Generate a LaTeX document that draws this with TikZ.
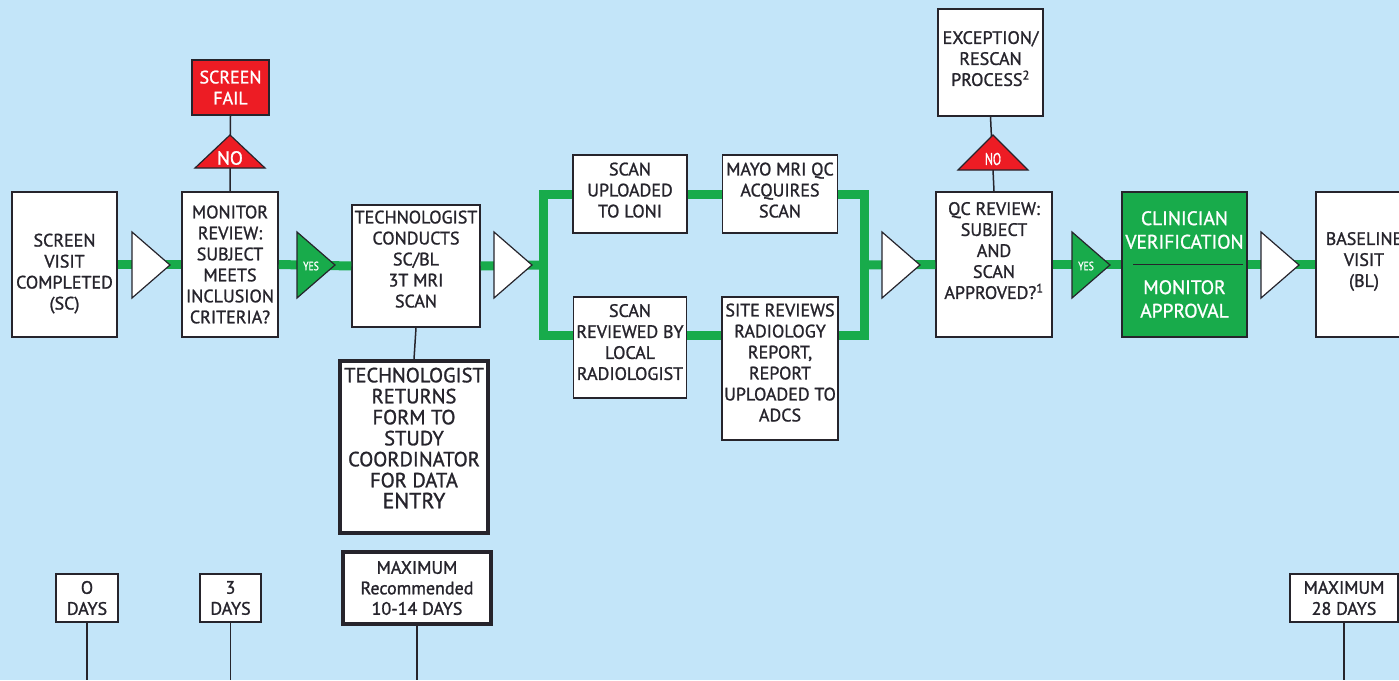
\documentclass[tikz,border=0pt]{standalone}
\usepackage{fontspec}
\setmainfont{PT Sans}[UprightFeatures={FakeBold=1.2}]
\usepackage{graphicx}

\definecolor{skyblue}{RGB}{195,229,249}
\definecolor{flowgreen}{RGB}{24,171,75}
\definecolor{failred}{RGB}{237,28,36}
\definecolor{ink}{RGB}{38,36,44}

\tikzset{
    box/.style={draw=ink, fill=white, line width=1.5pt, text=ink, align=center,
        inner sep=0pt, font=\fontsize{18}{21}\selectfont},
    heavybox/.style={box, line width=3.5pt},
    flow/.style={flowgreen, line width=9pt},
    link/.style={draw=ink, line width=1.5pt},
    tri/.style={draw=ink, line width=1.2pt},
}

\begin{document}
\begin{tikzpicture}[x=1pt, y=-1pt]
    \fill[skyblue] (0,0) rectangle (1399,680);
    \useasboundingbox (0,0) rectangle (1399,680);
    \clip (0,0) rectangle (1399,680);
    \coordinate (bottom) at (0,680);

    % main row
    \node[box, minimum width=105pt, minimum height=145pt, text height=94pt] (sc) at (64.5,264.5) {SCREEN\\VISIT\\COMPLETED\\(SC)};
    \node[box, minimum width=96pt, minimum height=145pt] (review) at (230,264.5) {MONITOR\\REVIEW:\\SUBJECT\\MEETS\\INCLUSION\\CRITERIA?};
    \node[box, fill=failred, text=white, minimum width=77pt, minimum height=55pt] (fail) at (230.5,87.5) {SCREEN\\FAIL};
    \node[box, minimum width=128pt, minimum height=122pt, text depth=14pt] (tech) at (416,266) {TECHNOLOGIST\\CONDUCTS\\SC/BL\\3T MRI\\SCAN};
    \node[heavybox, minimum width=148pt, minimum height=172pt, text depth=18pt,
        font=\fontsize{20.5}{21}\selectfont] (returns) at (414,447)
        {TECHNOLOGIST\\RETURNS\\FORM TO\\STUDY\\COORDINATOR\\FOR DATA\\{\fontsize{22}{23}\selectfont ENTRY}};

    % scan branches
    \node[box, minimum width=114pt, minimum height=78pt, text depth=8pt] (loni) at (630,194) {SCAN\\UPLOADED\\TO LONI};
    \node[box, minimum width=115pt, minimum height=78pt, text depth=8pt] (mayo) at (780,194) {MAYO MRI QC\\ACQUIRES\\SCAN};
    \node[box, minimum width=113pt, minimum height=101pt, text depth=11pt] (local) at (630,347.5) {SCAN\\REVIEWED BY\\LOCAL\\RADIOLOGIST};
    \node[box, minimum width=116pt, minimum height=143pt, text depth=12pt] (site) at (780,368.5) {SITE REVIEWS\\RADIOLOGY\\REPORT,\\REPORT\\UPLOADED TO\\ADCS};

    \node[box, minimum width=116pt, minimum height=145pt, text depth=28pt] (qc) at (994,264.5) {QC REVIEW:\\SUBJECT\\AND\\SCAN\\APPROVED?\textsuperscript{1}};
    \node[box, minimum width=105pt, minimum height=107pt, text depth=8pt] (except) at (990.5,62.5) {EXCEPTION/\\RESCAN\\PROCESS\textsuperscript{2}};
    \node[box, fill=flowgreen, text=white, minimum width=125pt, minimum height=145pt,
        font=\fontsize{19.5}{23.5}\selectfont] (clin) at (1184.5,264.5) {CLINICIAN\\VERIFICATION\\[22pt]MONITOR\\APPROVAL};
    \node[box, minimum width=96pt, minimum height=145pt, text depth=10pt] (base) at (1364,264.5) {BASELINE\\VISIT\\(BL)};

    % time line
    \node[box, minimum width=62pt, minimum height=48pt] (day0) at (87,598) {O\\DAYS};
    \node[box, minimum width=61pt, minimum height=48pt] (day3) at (230.5,598) {3\\DAYS};
    \node[heavybox, minimum width=148pt, minimum height=72pt, font=\fontsize{18}{20.5}\selectfont] (max1) at (417,588) {MAXIMUM\\Recommended\\10-14 DAYS};
    \node[box, minimum width=108pt, minimum height=48pt] (max28) at (1344,598) {MAXIMUM\\28 DAYS};

    % green flow
    \coordinate (split) at (543,265);
    \coordinate (join) at (864,265);
    \draw[flow] (sc.east) -- (review.west);
    \draw[flow] (review.east) -- (tech.west);
    \draw[flow] (tech.east) -- (split);
    \draw[flow] (loni.west) -| (split) |- ([yshift=12.5pt]local.west) coordinate (low);
    \draw[flow] (loni.east) -- (mayo.west);
    \draw[flow] (low -| local.east) -- (low -| site.west);
    \draw[flow] (mayo.east) -| (join) |- (low -| site.east);
    \draw[flow] (join) -- (qc.west);
    \draw[flow] (qc.east) -- (clin.west);
    \draw[flow] (clin.east) -- (base.west);

    % black links
    \draw[link] (review.north) -- (fail.south);
    \draw[link] (qc.north) -- (except.south);
    \draw[link] (tech.south) -- (returns.north);
    \draw[link] ([xshift=12pt]clin.west) -- ([xshift=-5pt]clin.east);
    \foreach \n in {day0,day3,max1,max28}
        \draw[link] (\n.south) -- (\n.south |- bottom);

    % arrow heads on the flow
    \foreach \x in {170,532,920,1299}
        \filldraw[tri, fill=white] (\x,265) -- ++(-38,-33) -- ++(0,66) -- cycle;
    \foreach \x in {335,1110}
        \filldraw[tri, fill=flowgreen] (\x,265) -- ++(-38,-33) -- ++(0,66) -- cycle
            node[text=white, font=\fontsize{12}{12}\selectfont] (yes\x) at (\x-24,266) {\scalebox{0.8}[1]{YES}};
    \filldraw[tri, fill=failred] (230,135) -- (265,168) -- (195,168) -- cycle
        node[text=white, font=\fontsize{19}{19}\selectfont] (no1) at (230,158) {NO};
    \filldraw[tri, fill=failred] (993,135) -- (1028,170) -- (958,170) -- cycle
        node[text=white, font=\fontsize{17}{17}\selectfont] (no2) at (993,159) {\scalebox{0.7}[1]{NO}};
\end{tikzpicture}
\end{document}
